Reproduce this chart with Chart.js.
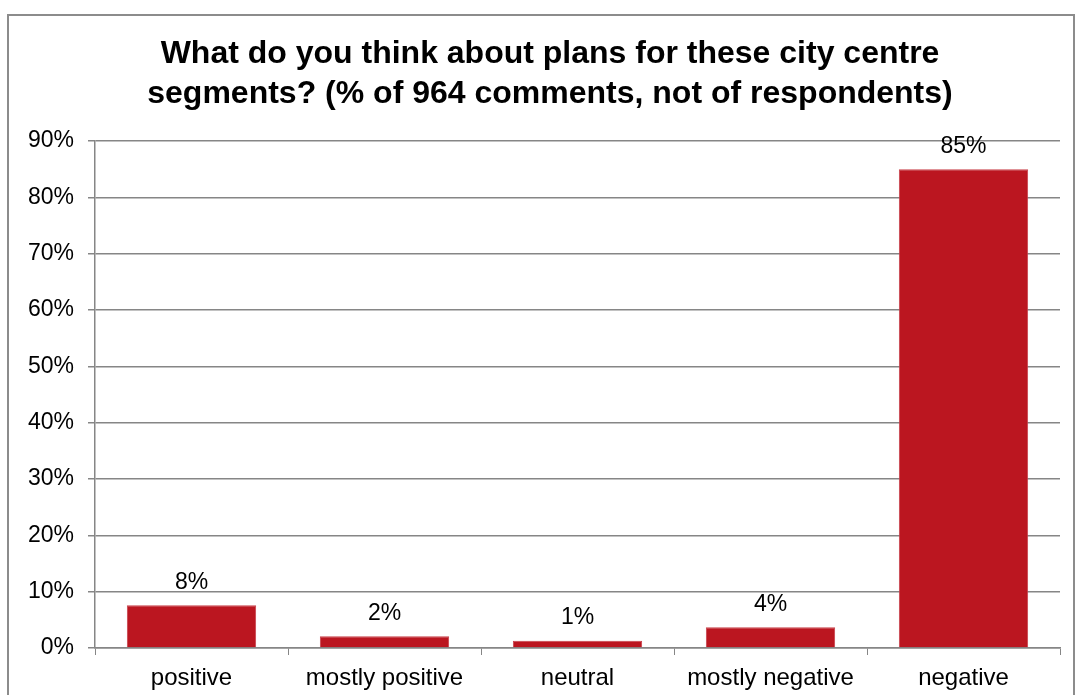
<!DOCTYPE html>
<html>
<head>
<meta charset="utf-8">
<script src="https://cdn.jsdelivr.net/npm/chart.js@4.4.1/dist/chart.umd.min.js"></script>
<style>
    html, body { margin: 0; padding: 0; background: #fff; }
    #wrap { position: relative; width: 1075px; height: 695px; }
    #frame {
        position: absolute; left: 7px; top: 14px; width: 1064px; height: 700px;
        border: 2px solid #8c8c8c; pointer-events: none;
    }
    canvas { position: absolute; left: 0; top: 0; }
</style>
</head>
<body>
<div id="wrap">
    <canvas id="segmentsChart" width="1075" height="695"></canvas>
    <div id="frame"></div>
</div>
<script>
const categories = ['positive', 'mostly positive', 'neutral', 'mostly negative', 'negative'];
const shareOfComments = [7.6, 2.1, 1.3, 3.7, 85.0];
const yTicks = [0, 10, 20, 30, 40, 50, 60, 70, 80, 90];

const FONT = '"Liberation Sans", Arial, sans-serif';
const GREY = '#868686';

// value labels sitting above each bar
const barValueLabels = {
    id: 'barValueLabels',
    afterDatasetsDraw(chart) {
        const ctx = chart.ctx;
        const meta = chart.getDatasetMeta(0);
        ctx.save();
        ctx.font = '23px ' + FONT;
        ctx.fillStyle = '#000';
        ctx.textAlign = 'center';
        ctx.textBaseline = 'middle';
        meta.data.forEach((bar, i) => {
            const v = shareOfComments[i];
            ctx.fillText(Math.round(v) + '%', bar.x, bar.y - 23);
        });
        ctx.restore();
    }
};

// centre the title over the frame rather than over the padded canvas
const titleShift = {
    id: 'titleShift',
    afterLayout(chart) {
        if (chart.titleBlock) {
            chart.titleBlock.left = 40;
        }
    }
};

new Chart(document.getElementById('segmentsChart'), {
    type: 'bar',
    data: {
        labels: categories,
        datasets: [{
            data: shareOfComments,
            backgroundColor: '#BB1620',
            borderColor: '#C8404A',
            borderWidth: 1,
            barPercentage: 0.67,
            categoryPercentage: 1.0
        }]
    },
    options: {
        responsive: false,
        animation: false,
        layout: { padding: { left: 25, right: 15, top: 32, bottom: -6 } },
        plugins: {
            legend: { display: false },
            tooltip: { enabled: false },
            title: {
                display: true,
                text: ['What do you think about plans for these city centre',
                       'segments? (% of 964 comments, not of respondents)'],
                color: '#000',
                font: { family: FONT, size: 32, weight: 'bold', lineHeight: 1.25 },
                padding: { top: 2, bottom: 27 }
            }
        },
        scales: {
            x: {
                grid: {
                    display: true,
                    drawOnChartArea: false,
                    drawTicks: true,
                    tickLength: 7,
                    color: GREY,
                    offset: true
                },
                border: { display: true, color: GREY, width: 1.5 },
                ticks: {
                    color: '#000',
                    padding: 11,
                    font: { family: FONT, size: 24, lineHeight: 1.0 },
                    maxRotation: 0
                }
            },
            y: {
                min: yTicks[0],
                max: yTicks[yTicks.length - 1],
                afterFit(scale) { scale.width = 70; },
                grid: { color: GREY, lineWidth: 1.5, tickLength: 7 },
                border: { display: true, color: GREY, width: 1.5 },
                ticks: {
                    color: '#000',
                    padding: 14,
                    stepSize: yTicks[1] - yTicks[0],
                    font: { family: FONT, size: 23 },
                    callback: v => v + '%'
                }
            }
        }
    },
    plugins: [barValueLabels, titleShift]
});
</script>
</body>
</html>
